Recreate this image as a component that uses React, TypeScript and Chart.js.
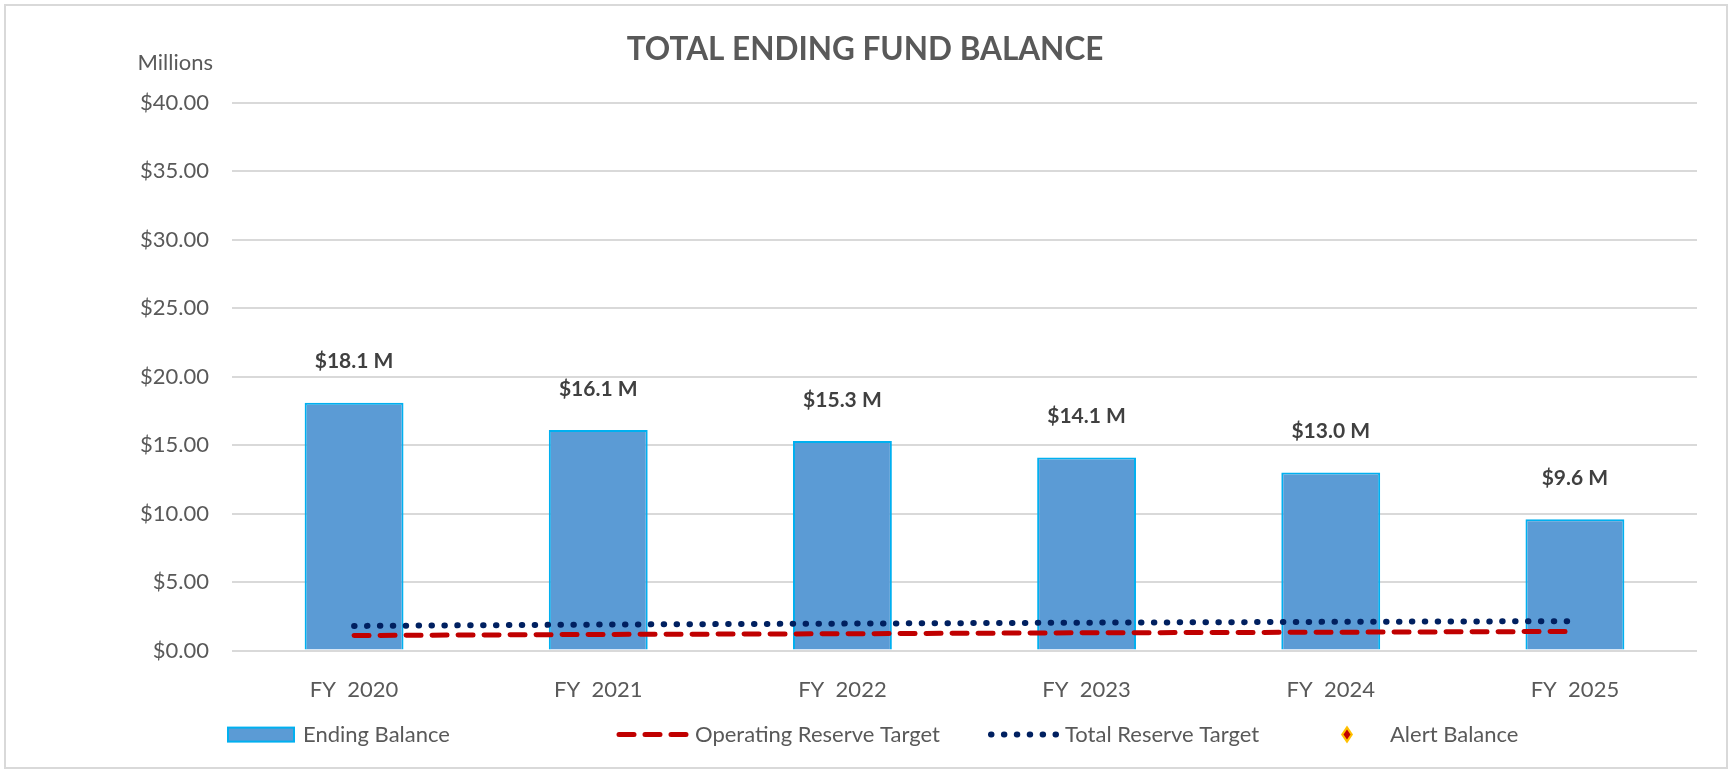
import React, { useEffect, useRef } from "react";
import { Chart, registerables } from "chart.js";

Chart.register(...registerables);

const categories = ["FY  2020", "FY  2021", "FY  2022", "FY  2023", "FY  2024", "FY  2025"];
const endingBalance = [18.1, 16.1, 15.3, 14.1, 13.0, 9.6];
const operatingReserveTarget = [1.1, 1.18, 1.23, 1.3, 1.34, 1.4];
const totalReserveTarget = [1.8, 1.9, 1.97, 2.04, 2.1, 2.15];
const alertBalance: (number | null)[] = [null, null, null, null, null, null];
const yMin = 0;
const yMax = 40;
const yStep = 5;

const FONT = "Lato, 'Open Sans', sans-serif";
const GRAY = "#595959";
const BAR_FILL = "#5B9BD5";
const BAR_BORDER = "#00B0F0";
const RED = "#C00000";
const NAVY = "#002060";

const framePlugin = {
  id: "frame",
  beforeDraw(chart: any) {
    const { ctx, width, height } = chart;
    ctx.save();
    ctx.fillStyle = "#ffffff";
    ctx.fillRect(0, 0, width, height);
    ctx.strokeStyle = "#d9d9d9";
    ctx.lineWidth = 2;
    ctx.strokeRect(5, 5, width - 8, height - 9);
    ctx.restore();
  },
};

const extrasPlugin = {
  id: "extras",
  afterDatasetsDraw(chart: any) {
    const { ctx, chartArea } = chart;
    ctx.save();
    // Millions label
    ctx.font = `22px ${FONT}`;
    ctx.fillStyle = GRAY;
    ctx.textAlign = "right";
    ctx.textBaseline = "middle";
    ctx.fillText("Millions", chartArea.left - 19, chartArea.top - 40);

    // data labels
    const meta = chart.getDatasetMeta(3);
    ctx.font = `bold 21px ${FONT}`;
    ctx.fillStyle = "#404040";
    ctx.textAlign = "center";
    meta.data.forEach((el: any, i: number) => {
      const v = endingBalance[i];
      ctx.fillText(`$${v.toFixed(1)} M`, el.x, el.y - 41);
    });

    // legend
    const ly = chartArea.bottom + 84;
    ctx.font = `22px ${FONT}`;
    ctx.textAlign = "left";
    ctx.fillStyle = GRAY;
    // Ending Balance
    ctx.fillStyle = BAR_FILL;
    ctx.fillRect(228, ly - 7, 66, 14);
    ctx.strokeStyle = BAR_BORDER;
    ctx.lineWidth = 2;
    ctx.strokeRect(228, ly - 7, 66, 14);
    ctx.fillStyle = GRAY;
    ctx.fillText("Ending Balance", 303, ly);
    // Operating Reserve Target
    ctx.strokeStyle = RED;
    ctx.lineWidth = 5;
    ctx.lineCap = "round";
    ctx.setLineDash([15, 11]);
    ctx.beginPath();
    ctx.moveTo(619, ly);
    ctx.lineTo(690, ly);
    ctx.stroke();
    ctx.fillText("Operating Reserve Target", 695, ly);
    // Total Reserve Target
    ctx.strokeStyle = NAVY;
    ctx.lineWidth = 6;
    ctx.setLineDash([0.5, 12.4]);
    ctx.beginPath();
    ctx.moveTo(991, ly);
    ctx.lineTo(1058, ly);
    ctx.stroke();
    ctx.setLineDash([]);
    ctx.fillText("Total Reserve Target", 1065, ly);
    // Alert Balance
    ctx.fillStyle = "#FFC000";
    ctx.beginPath();
    ctx.moveTo(1347, ly - 9);
    ctx.lineTo(1353, ly);
    ctx.lineTo(1347, ly + 9);
    ctx.lineTo(1341, ly);
    ctx.closePath();
    ctx.fill();
    ctx.fillStyle = RED;
    ctx.beginPath();
    ctx.moveTo(1347, ly - 5);
    ctx.lineTo(1350.5, ly);
    ctx.lineTo(1347, ly + 5);
    ctx.lineTo(1343.5, ly);
    ctx.closePath();
    ctx.fill();
    ctx.fillStyle = GRAY;
    ctx.fillText("Alert Balance", 1390, ly);
    ctx.restore();
  },
};

export default function App() {
  const ref = useRef<HTMLCanvasElement>(null);
  useEffect(() => {
    if (!ref.current) return;
    const chart = new Chart(ref.current, {
      type: "bar",
      data: {
        labels: categories,
        datasets: [
          {
            type: "line",
            label: "Total Reserve Target",
            data: totalReserveTarget,
            borderColor: NAVY,
            borderWidth: 6,
            borderDash: [0.5, 12.4],
            borderCapStyle: "round",
            pointRadius: 0,
            tension: 0,
            order: 0,
          } as any,
          {
            type: "line",
            label: "Operating Reserve Target",
            data: operatingReserveTarget,
            borderColor: RED,
            borderWidth: 5,
            borderDash: [15, 11],
            borderCapStyle: "round",
            pointRadius: 0,
            tension: 0,
            order: 1,
          } as any,
          {
            type: "line",
            label: "Alert Balance",
            data: alertBalance,
            showLine: false,
            pointStyle: "rectRot",
            pointRadius: 6,
            backgroundColor: RED,
            borderColor: "#FFC000",
            order: 2,
          } as any,
          {
            type: "bar",
            label: "Ending Balance",
            data: endingBalance,
            backgroundColor: BAR_FILL,
            borderColor: BAR_BORDER,
            borderWidth: 2,
            borderSkipped: "bottom",
            barPercentage: 0.405,
            categoryPercentage: 1,
            order: 3,
          } as any,
        ],
      },
      options: {
        animation: false,
        responsive: false,
        maintainAspectRatio: false,
        layout: { padding: { left: 33, right: 33, top: 0, bottom: 51 } },
        plugins: {
          legend: { display: false },
          tooltip: { enabled: false },
          title: {
            display: true,
            text: "TOTAL ENDING FUND BALANCE",
            color: GRAY,
            font: { family: FONT, size: 31.5, weight: "bold" },
            padding: { top: 31, bottom: 34 },
          },
        },
        scales: {
          x: {
            grid: { display: false },
            border: { display: false },
            ticks: {
              color: GRAY,
              font: { family: FONT, size: 22 },
              padding: 18,
              maxRotation: 0,
            },
          },
          y: {
            min: yMin,
            max: yMax,
            grid: { color: "#d9d9d9", lineWidth: 2, drawTicks: false },
            border: { display: false },
            ticks: {
              stepSize: yStep,
              color: GRAY,
              padding: 23,
              font: { family: FONT, size: 22 },
              callback: (v: any) => `$${Number(v).toFixed(2)}`,
            },
            afterFit: (scale: any) => {
              scale.width = 199;
            },
          },
        },
      },
      plugins: [framePlugin, extrasPlugin],
    });
    return () => chart.destroy();
  }, []);
  return (
    <div style={{ position: "fixed", left: 0, top: 0, width: 1730, height: 772 }}>
      <canvas ref={ref} width={1730} height={772} style={{ display: "block" }} />
    </div>
  );
}
